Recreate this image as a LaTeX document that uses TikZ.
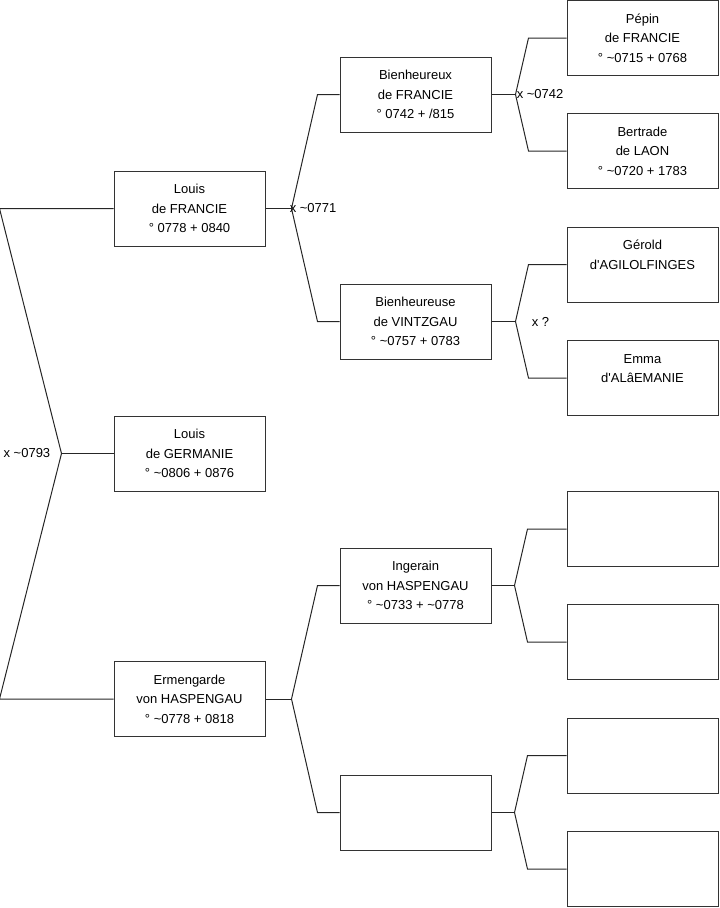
\documentclass[tikz,border=0pt]{standalone}
\usepackage{fontspec}
\setmainfont{Liberation Sans}
\usetikzlibrary{calc, positioning}
\newcommand{\abt}{\textasciitilde}
\newcommand{\apos}{\textquotesingle}

\begin{document}
\begin{tikzpicture}[x=0.75pt, y=-0.75pt,
    person/.style={draw=black!80, line width=0.75pt, minimum width=113.25pt,
        minimum height=56.25pt, align=center, inner sep=0pt,
        font=\fontsize{9.75}{14.6}\selectfont},
    link/.style={black!85, line width=0.75pt},
    union/.style={inner sep=0pt, font=\fontsize{9.75}{12}\selectfont}]
    % Fix the page to the reference size
    \useasboundingbox (0,0) rectangle (719,908);

    % First column: the couple and their son
    \node[person] (louisF) at (189.5,208.5) {Louis\\de FRANCIE\\° 0778 + 0840};
    \node[person] (louisG) at (189.5,453.5) {Louis\\de GERMANIE\\° \abt0806 + 0876};
    \node[person] (ermen) at (189.5,699) {Ermengarde\\von HASPENGAU\\° \abt0778 + 0818};

    % Second column: grandparents
    \node[person] (bienX) at (415.5,94.5) {Bienheureux\\de FRANCIE\\° 0742 + /815};
    \node[person] (bienS) at (415.5,321.5) {Bienheureuse\\de VINTZGAU\\° \abt0757 + 0783};
    \node[person] (inger) at (415.5,585.5) {Ingerain\\von HASPENGAU\\° \abt0733 + \abt0778};
    \node[person] (anonB) at (415.5,812.5) {};

    % Third column: great-grandparents
    \node[person] (pepin) at (642.5,38) {Pépin\\de FRANCIE\\° \abt0715 + 0768};
    \node[person] (bertr) at (642.5,151) {Bertrade\\de LAON\\° \abt0720 + 1783};
    \node[person] (gerold) at (642.5,264.5) {Gérold\\d\apos AGILOLFINGES\\\mbox{}};
    \node[person] (emma) at (642.5,378) {Emma\\d\apos ALâEMANIE\\\mbox{}};
    \node[person] (anonC) at (642.5,529) {};
    \node[person] (anonD) at (642.5,642) {};
    \node[person] (anonE) at (642.5,755.5) {};
    \node[person] (anonF) at (642.5,869) {};

    % Marriage fork on the left of Louis de Germanie
    \coordinate (v-louisG) at ($(louisG.west)+(-52,0)$);
    \draw[link] (louisF.west) -- ++(-114,0) -- (v-louisG)
        -- ($(ermen.west)+(-114,0)$) -- (ermen.west);
    \draw[link] (v-louisG) -- (louisG.west);

    % Forks from a child to its two parents
    \foreach \kid/\dad/\mom/\stem/\gap in {louisF/bienX/bienS/26/22, ermen/inger/anonB/26/22,
        bienX/pepin/bertr/24/38, bienS/gerold/emma/24/38,
        inger/anonC/anonD/23/39, anonB/anonE/anonF/23/39} {
        \coordinate (v-\kid) at ($(\kid.east)+(\stem,0)$);
        \draw[link] (\dad.west) -- ++(-\gap,0) coordinate (a)
            -- (v-\kid) -- (a |- \mom.west) -- (\mom.west);
        \draw[link] (\kid.east) -- (v-\kid);
    }

    % Marriage dates
    \node[union, anchor=east] (m-louisG) at ($(v-louisG)+(-11,0)$) {x \abt0793};
    \node[union, anchor=west] (m-louisF) at ($(v-louisF)+(-2,0)$) {x \abt0771};
    \node[union, anchor=west] (m-bienX) at ($(v-bienX)+(1,0)$) {x \abt0742};
    \node[union, anchor=west] (m-bienS) at ($(v-bienS)+(16,0)$) {x ?};
\end{tikzpicture}
\end{document}
